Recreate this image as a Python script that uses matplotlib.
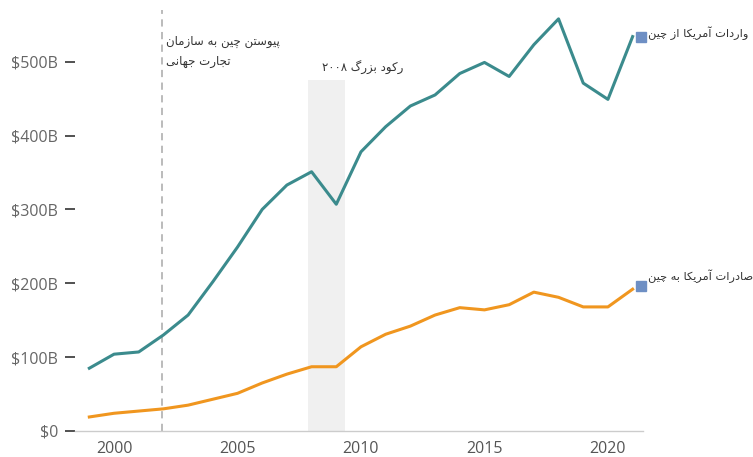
import re
import matplotlib
matplotlib.use('Agg')
import matplotlib.pyplot as plt
from matplotlib.ticker import FuncFormatter

# US trade with China, billions of dollars
years = list(range(1999, 2022))
imports = [85, 104, 107, 130, 157, 202, 249, 300, 333, 351, 307, 378, 412,
           440, 455, 484, 499, 480, 523, 558, 471, 449, 534]
exports = [19, 24, 27, 30, 35, 43, 51, 65, 77, 87, 87, 114, 131,
           142, 157, 167, 164, 171, 188, 181, 168, 168, 192]

imports_label = 'واردات آمریکا از چین'
exports_label = 'صادرات آمریکا به چین'
wto_label = ['پیوستن چین به سازمان', 'تجارت جهانی']
recession_label = 'رکود بزرگ ۲۰۰۸'
wto_year = 2001.95
recession = (2007.85, 2009.35)


# --- minimal Persian shaping (matplotlib does no Arabic joining / bidi) ---
FORMS = {  # isolated, final, initial, medial
    'ا': (0xFE8D, 0xFE8E), 'آ': (0xFE81, 0xFE82),
    'د': (0xFEA9, 0xFEAA), 'ر': (0xFEAD, 0xFEAE), 'ز': (0xFEAF, 0xFEB0),
    'و': (0xFEED, 0xFEEE),
    'ب': (0xFE8F, 0xFE90, 0xFE91, 0xFE92), 'پ': (0xFB56, 0xFB57, 0xFB58, 0xFB59),
    'ت': (0xFE95, 0xFE96, 0xFE97, 0xFE98), 'ج': (0xFE9D, 0xFE9E, 0xFE9F, 0xFEA0),
    'چ': (0xFB7A, 0xFB7B, 0xFB7C, 0xFB7D), 'س': (0xFEB1, 0xFEB2, 0xFEB3, 0xFEB4),
    'ص': (0xFEB9, 0xFEBA, 0xFEBB, 0xFEBC), 'ک': (0xFB8E, 0xFB8F, 0xFB90, 0xFB91),
    'گ': (0xFB92, 0xFB93, 0xFB94, 0xFB95), 'م': (0xFEE1, 0xFEE2, 0xFEE3, 0xFEE4),
    'ن': (0xFEE5, 0xFEE6, 0xFEE7, 0xFEE8), 'ه': (0xFEE9, 0xFEEA, 0xFEEB, 0xFEEC),
    'ی': (0xFBFC, 0xFBFD, 0xFBFE, 0xFBFF),
}


def fa(text):
    out = []
    for i, ch in enumerate(text):
        if ch not in FORMS:
            out.append(ch)
            continue
        prev = text[i - 1] if i > 0 else ''
        nxt = text[i + 1] if i + 1 < len(text) else ''
        joins_prev = prev in FORMS and len(FORMS[prev]) == 4
        joins_next = len(FORMS[ch]) == 4 and nxt in FORMS
        f = FORMS[ch]
        if joins_prev and joins_next:
            out.append(chr(f[3]))
        elif joins_prev:
            out.append(chr(f[1]))
        elif joins_next:
            out.append(chr(f[2]))
        else:
            out.append(chr(f[0]))
    vis = ''.join(out)[::-1]
    # digits keep left-to-right order
    return re.sub(r'[0-9۰-۹]+', lambda m: m.group(0)[::-1], vis)


fa_font = ['DejaVu Sans']
plt.rcParams['font.family'] = ['Open Sans', 'DejaVu Sans']

fig = plt.figure(figsize=(7.53, 4.57), dpi=100)
ax = fig.add_axes([75 / 753, 26 / 457, 568 / 753, 421 / 457])

ax.fill_between(recession, 0, 475, color='#f0f0f0', lw=0, zorder=0)
ax.axvline(wto_year, color='#b5b5b5', lw=1.3, ls=(0, (4, 3)), zorder=1)

ax.plot(years, imports, color='#3b8b8d', lw=2.2, zorder=3)
ax.plot(years, exports, color='#f0961f', lw=2.2, zorder=3)

ax.plot([2021.33], [534], marker='s', ms=6.5, color='#6e8fc4', clip_on=False, zorder=4)
ax.plot([2021.33], [196], marker='s', ms=6.5, color='#6e8fc4', clip_on=False, zorder=4)

tc = '#333333'
ax.text(2021.62, 539, fa(imports_label), family=fa_font, fontsize=8.2, color=tc,
        ha='left', va='center', clip_on=False)
ax.text(2021.62, 210, fa(exports_label), family=fa_font, fontsize=8.2, color=tc,
        ha='left', va='center', clip_on=False)
ax.text(2002.1, 527, fa(wto_label[0]), family=fa_font, fontsize=8.5, color=tc,
        ha='left', va='center')
ax.text(2002.1, 500, fa(wto_label[1]), family=fa_font, fontsize=8.5, color=tc,
        ha='left', va='center')
ax.text(2008.42, 492, fa(recession_label), family=fa_font, fontsize=8.5, color=tc,
        ha='left', va='center')

ax.set_xlim(1998.42, 2021.42)
ax.set_ylim(0, 570)
ax.set_xticks([2000, 2005, 2010, 2015, 2020])
ax.set_yticks([0, 100, 200, 300, 400, 500])
ax.yaxis.set_major_formatter(FuncFormatter(lambda v, p: '$0' if v == 0 else f'${int(v)}B'))

for s in ['top', 'right', 'left']:
    ax.spines[s].set_visible(False)
ax.spines['bottom'].set_color('#cccccc')
ax.spines['bottom'].set_linewidth(1)

ax.tick_params(axis='y', length=7, width=1.2, color='#333333', pad=5,
               labelsize=11.5, labelcolor='#666666')
ax.tick_params(axis='x', length=0, pad=7, labelsize=11.5, labelcolor='#555555')

fig.savefig('out.png', dpi=100)
